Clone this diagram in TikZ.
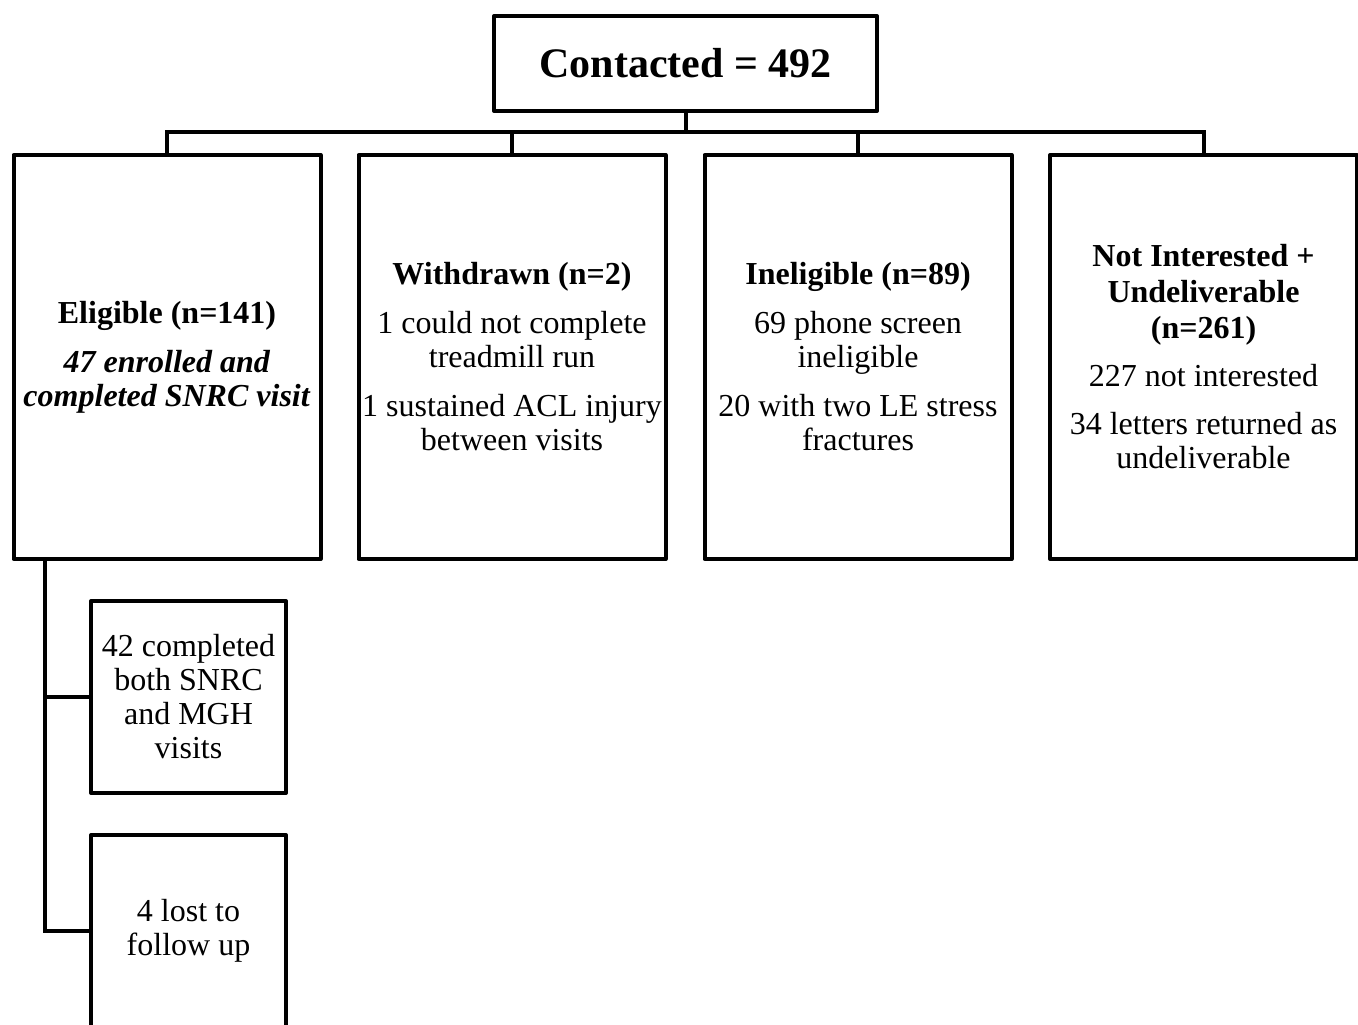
\documentclass[tikz,border=0pt]{standalone}
\usepackage{fontspec}
\setmainfont{Liberation Serif}
\begin{document}
\begin{tikzpicture}[x=0.5pt,y=-0.5pt,
    every node/.style={align=center, font=\fontsize{16}{17}\selectfont},
    box/.style={draw, line width=2pt, line join=round, inner sep=0pt, minimum width=153.5pt, minimum height=202pt},
    subbox/.style={draw, line width=2pt, line join=round, inner sep=0pt, minimum width=97.5pt, minimum height=96pt},
    link/.style={line width=2pt}]
    \useasboundingbox (0,0) rectangle (1358,1024);

    \node[draw, line width=2pt, line join=round, minimum width=191.5pt, minimum height=47.5pt,
      font=\fontsize{21}{25}\selectfont\bfseries] (contacted) at (685.5,63.5) {Contacted = 492};

    \node[box] (eligible) at (167,357) {\textbf{Eligible (n=141)}\\[7.5pt]
      \textbf{\textit{47 enrolled and}}\\\textbf{\textit{completed SNRC visit}}};
    \node[box] (withdrawn) at (512,357) {\textbf{Withdrawn (n=2)}\\[7.5pt]
      1 could not complete\\treadmill run\\[7.5pt]1 sustained ACL injury\\between visits};
    \node[box] (ineligible) at (858,357) {\textbf{Ineligible (n=89)}\\[7.5pt]
      69 phone screen\\ineligible\\[7.5pt]20 with two LE stress\\fractures};
    \node[box] (notint) at (1203.5,357) {\textbf{Not Interested +}\\[1pt]\textbf{Undeliverable}\\[1pt]\textbf{(n=261)}\\[7pt]
      227 not interested\\[7pt]34 letters returned as\\undeliverable};

    \node[subbox] (completed) at (188.5,697) {42 completed\\both SNRC\\and MGH\\visits};
    \node[subbox] (lost) at (188.5,931) {4 lost to\\follow up};

    % tree lines
    \coordinate (bar) at (685.5,132);
    \coordinate (trunk) at (45,559);
    \draw[link] (contacted) -- (bar);
    \draw[link] (bar) -| (eligible.north);
    \draw[link] (bar) -| (withdrawn.north);
    \draw[link] (bar) -| (ineligible.north);
    \draw[link] (bar) -| (notint.north);
    \draw[link] (trunk) |- (completed.west);
    \draw[link] (trunk) |- (lost.west);
\end{tikzpicture}
\end{document}
